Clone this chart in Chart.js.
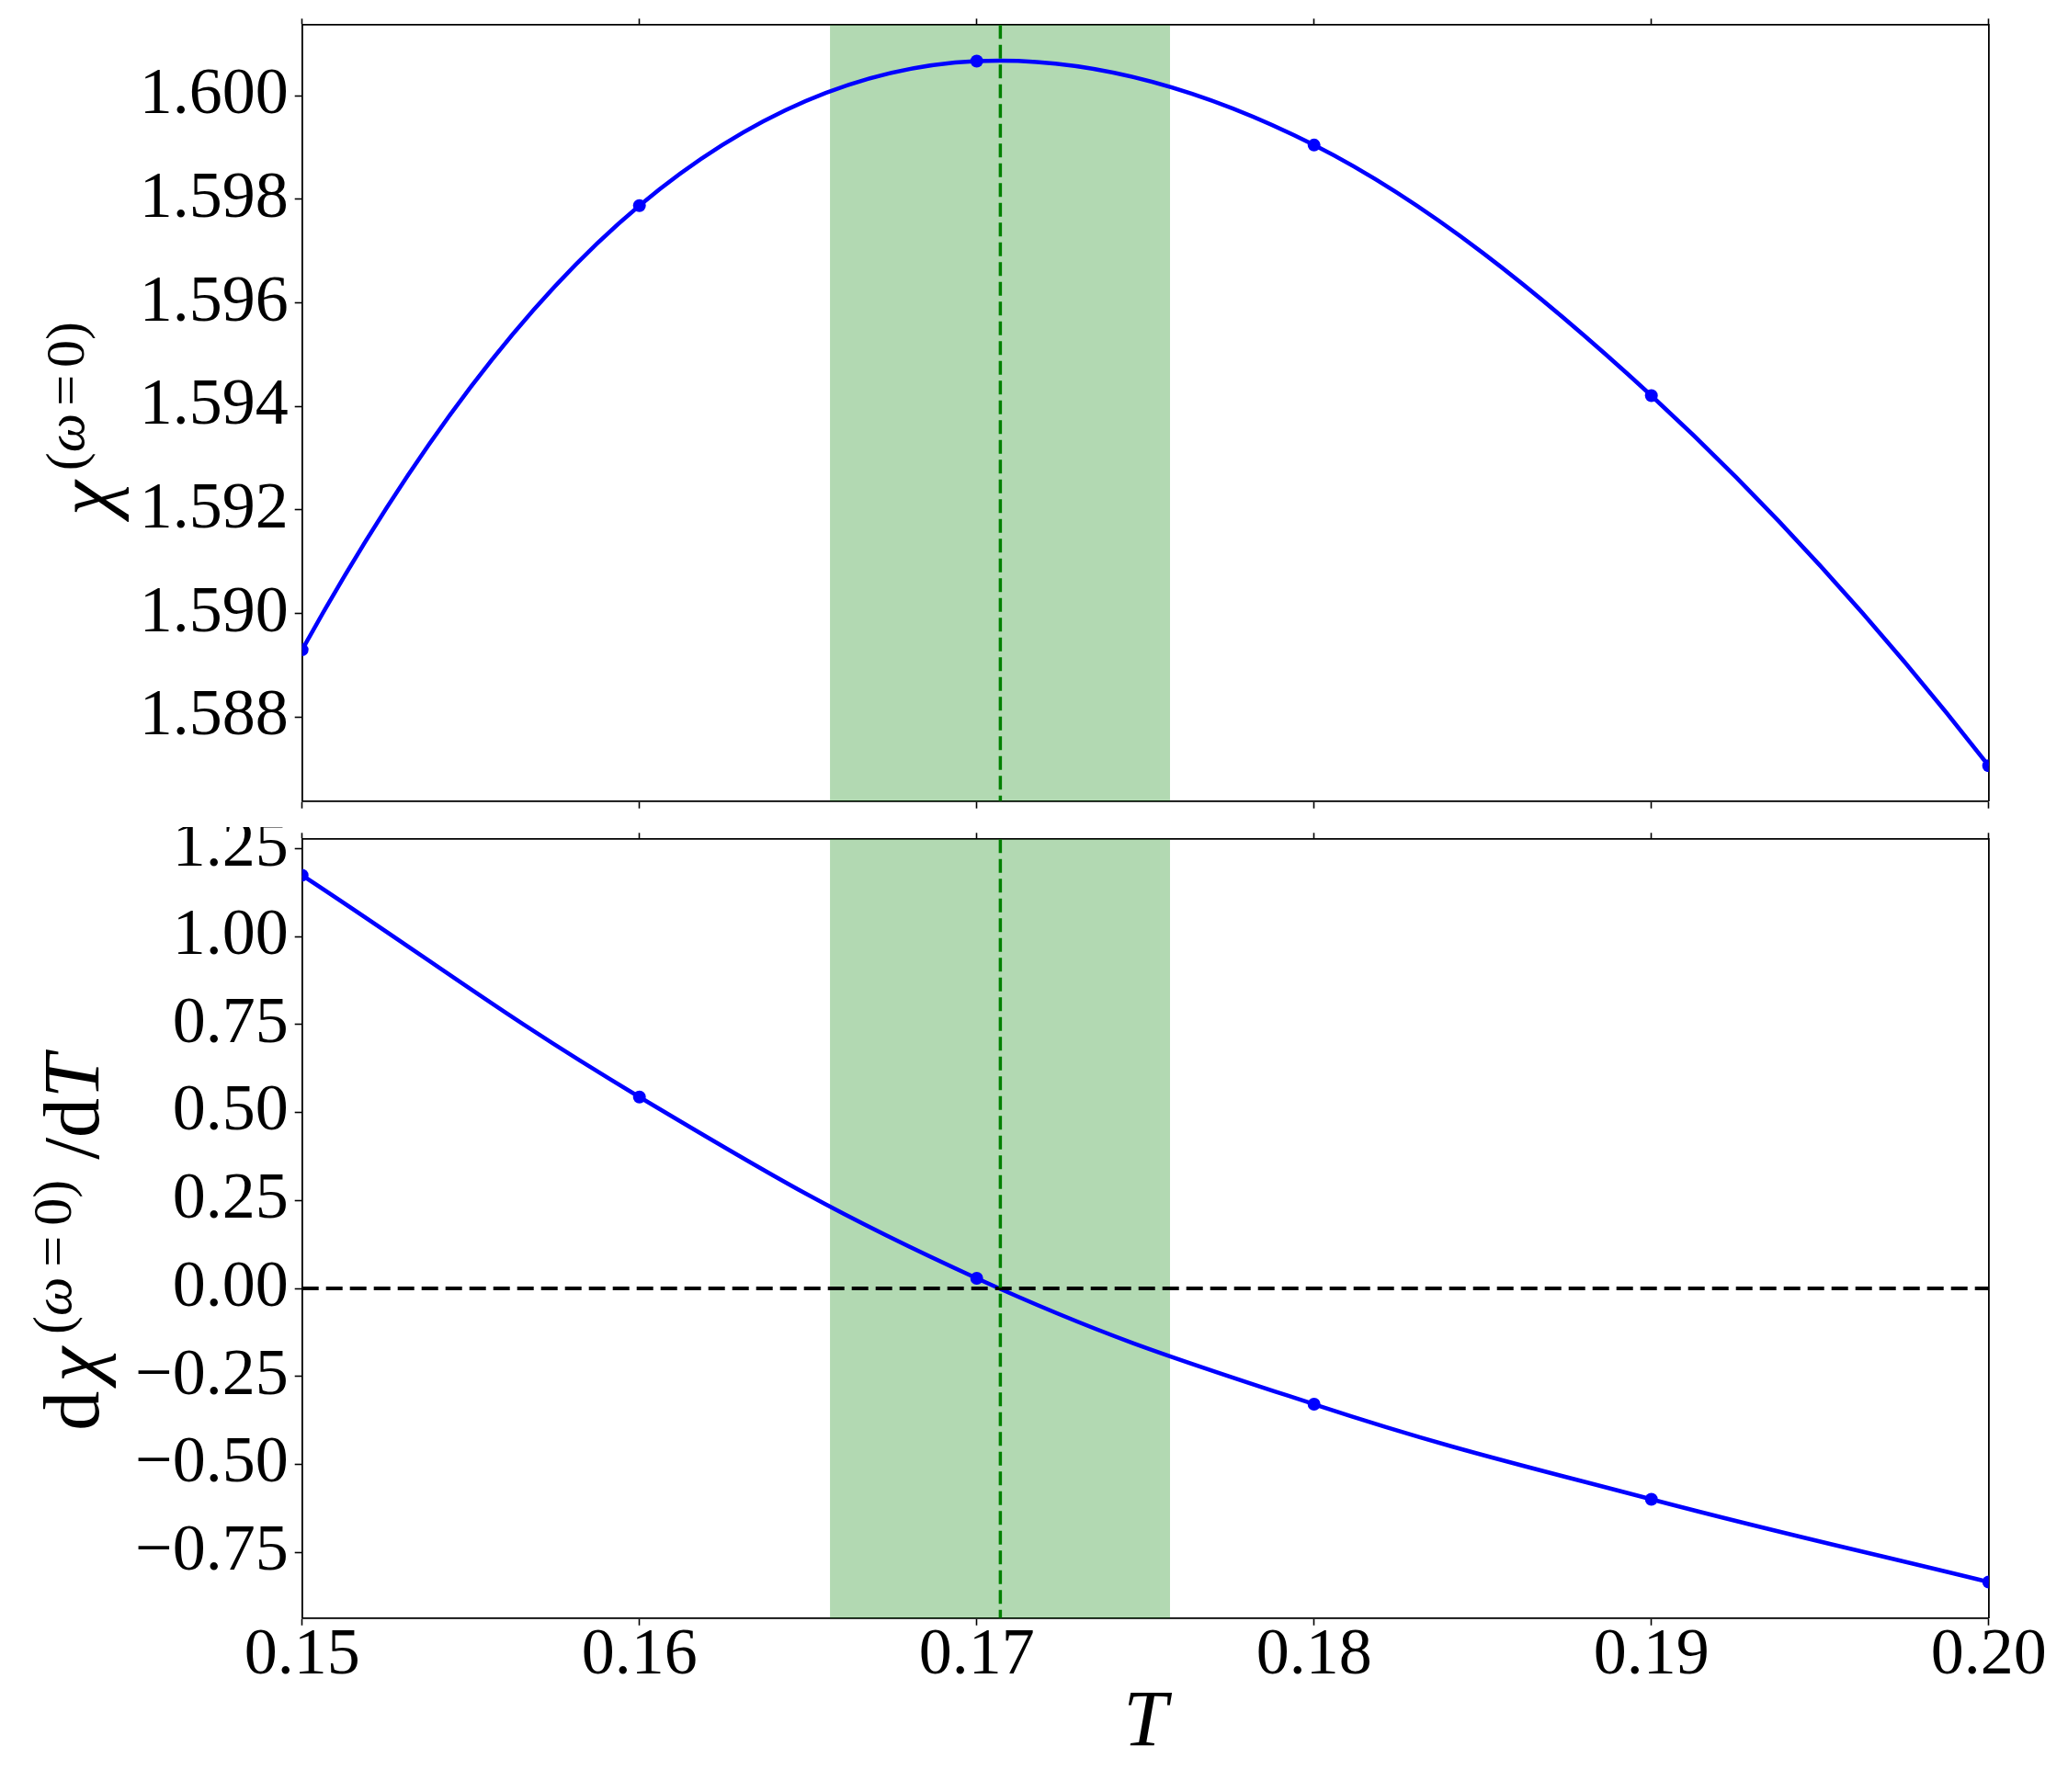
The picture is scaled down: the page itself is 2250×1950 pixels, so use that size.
<!DOCTYPE html>
<html>
<head>
<meta charset="utf-8">
<script src="https://cdn.jsdelivr.net/npm/chart.js@4.4.0/dist/chart.umd.min.js"></script>
<style>
  html, body { margin: 0; padding: 0; background: #fff; }
  #wrap { position: relative; width: 2250px; height: 1950px; }
  .box { position: absolute; left: 0; width: 2250px; }
  #top-box { top: 0; height: 900px; }
  #bottom-box { top: 900px; height: 1050px; }
</style>
</head>
<body>
<div id="wrap">
  <div class="box" id="top-box"><canvas id="chi-chart"></canvas></div>
  <div class="box" id="bottom-box"><canvas id="dchi-chart"></canvas></div>
</div>
<script>
// Temperatures of the computed points
const temps = [0.15, 0.16, 0.17, 0.18, 0.19, 0.20];
// Static susceptibility chi^(w=0)
const chiValues = [1.58930, 1.59788, 1.60067, 1.59905, 1.59421, 1.58706];
// Its derivative d chi / dT
const dchiValues = [1.174, 0.544, 0.029, -0.329, -0.599, -0.834];

// Critical temperature and its uncertainty band
const tCrit = 0.1707;
const tBand = [0.16565, 0.17573];

// Ticks
const tTicks = [0.15, 0.16, 0.17, 0.18, 0.19, 0.20];
const chiTicks = [1.588, 1.590, 1.592, 1.594, 1.596, 1.598, 1.600];
const dchiTicks = [-0.75, -0.50, -0.25, 0.00, 0.25, 0.50, 0.75, 1.00, 1.25];

// Axis limits
const tRange = [0.15, 0.20];
const chiRange = [1.586378, 1.601367];
const dchiRange = [-0.9364, 1.2761];

const SERIF = "'Liberation Serif', 'Times New Roman', serif";
Chart.defaults.font.family = SERIF;
Chart.defaults.color = '#000';

// fixed size of an axis box, no extra padding from labels
function fixBox(size) {
	return function(scale) {
		if (scale.isHorizontal()) scale.height = size;
		else scale.width = size;
		scale.paddingTop = 0;
		scale.paddingBottom = 0;
		scale.paddingLeft = 0;
		scale.paddingRight = 0;
	};
}

function useTicks(list) {
	return function(scale) {
		scale.ticks = list.map(v => ({ value: v }));
	};
}

function minus(str) {
	return str.replace('-', '\u2212');
}

const tickFont = { family: SERIF, size: 72, lineHeight: 1 };
const gridTicks = { drawOnChartArea: false, drawTicks: true, tickLength: 8, tickWidth: 1.6, tickColor: '#000' };
const frame = { display: true, color: '#000', width: 1.8 };

// Band of Tc, vertical dashed Tc line and optional zero line
const tcPlugin = {
	id: 'tcMarks',
	beforeDatasetsDraw(chart) {
		const { ctx, chartArea: a, scales: { x } } = chart;
		const x0 = x.getPixelForValue(tBand[0]);
		const x1 = x.getPixelForValue(tBand[1]);
		ctx.save();
		ctx.fillStyle = 'rgba(0, 128, 0, 0.3)';
		ctx.fillRect(x0, a.top, x1 - x0, a.height);
		ctx.restore();
	},
	afterDatasetsDraw(chart, args, opts) {
		const { ctx, chartArea: a, scales: { x, y } } = chart;
		ctx.save();
		ctx.beginPath();
		ctx.rect(a.left, a.top, a.width, a.height);
		ctx.clip();
		if (opts.zeroLine) {
			const y0 = y.getPixelForValue(0);
			ctx.strokeStyle = '#000';
			ctx.lineWidth = 4;
			ctx.setLineDash([18, 8]);
			ctx.beginPath();
			ctx.moveTo(a.left, y0);
			ctx.lineTo(a.right, y0);
			ctx.stroke();
		}
		const xc = x.getPixelForValue(tCrit);
		ctx.strokeStyle = '#008000';
		ctx.lineWidth = 3.5;
		ctx.setLineDash([15, 6.5]);
		ctx.beginPath();
		ctx.moveTo(xc, a.top);
		ctx.lineTo(xc, a.bottom);
		ctx.stroke();
		ctx.restore();
	}
};

// Curve of chi: bezier control points follow the slopes dchi/dT (Hermite form)
const slopePlugin = {
	id: 'slopeCurve',
	beforeDatasetDraw(chart, args, opts) {
		if (!opts.slopes) return;
		const meta = args.meta;
		const { x, y } = chart.scales;
		meta.dataset.updateControlPoints(chart.chartArea);
		meta.data.forEach((p, i) => {
			const t = temps[i];
			const v = opts.values[i];
			const s = opts.slopes[i];
			const hPrev = (i > 0 ? t - temps[i - 1] : temps[1] - temps[0]) / 3;
			const hNext = (i < temps.length - 1 ? temps[i + 1] - t : t - temps[i - 1]) / 3;
			p.cp1x = x.getPixelForValue(t - hPrev);
			p.cp1y = y.getPixelForValue(v - s * hPrev);
			p.cp2x = x.getPixelForValue(t + hNext);
			p.cp2y = y.getPixelForValue(v + s * hNext);
		});
	}
};

// y label with superscript, rotated
const yLabelPlugin = {
	id: 'yLabel',
	afterDraw(chart, args, opts) {
		const { ctx, chartArea: a } = chart;
		const pieces = opts.pieces;
		let total = 0;
		pieces.forEach(p => {
			ctx.font = p.font;
			p.w = ctx.measureText(p.text).width;
			total += p.w + (p.gap || 0);
		});
		ctx.save();
		ctx.translate(opts.baseX, (a.top + a.bottom) / 2 + (opts.shift || 0));
		ctx.rotate(-Math.PI / 2);
		ctx.textBaseline = 'alphabetic';
		ctx.textAlign = 'left';
		ctx.fillStyle = '#000';
		let pos = -total / 2;
		pieces.forEach(p => {
			pos += p.gap || 0;
			ctx.font = p.font;
			ctx.fillText(p.text, pos, -(p.rise || 0));
			pos += p.w;
		});
		ctx.restore();
	}
};

const big = '86px ' + SERIF;
const bigIt = 'italic 86px ' + SERIF;
const sup = '60px ' + SERIF;
const supIt = 'italic 60px ' + SERIF;

function supPieces(first, eqGap) {
	return [
		{ text: '(', font: sup, rise: 30, gap: first },
		{ text: '\u03c9', font: supIt, rise: 30 },
		{ text: '=', font: sup, rise: 30, gap: eqGap },
		{ text: '0', font: sup, rise: 30, gap: eqGap },
		{ text: ')', font: sup, rise: 30 }
	];
}

function xScales(showLabels, bottomSize) {
	return {
		x: {
			type: 'linear', position: 'bottom',
			min: tRange[0], max: tRange[1],
			afterBuildTicks: useTicks(tTicks),
			afterFit: fixBox(bottomSize),
			grid: gridTicks,
			border: frame,
			ticks: {
				display: showLabels, font: tickFont, padding: -3, autoSkip: false, maxRotation: 0,
				callback: v => v.toFixed(2)
			},
			title: {
				display: showLabels, text: 'T',
				font: { family: SERIF, size: 86, style: 'italic', lineHeight: 1 },
				padding: { top: 0, bottom: 31 }
			}
		},
		xTop: {
			type: 'linear', position: 'top',
			min: tRange[0], max: tRange[1],
			afterBuildTicks: useTicks(tTicks),
			afterFit: fixBox(7),
			grid: Object.assign({}, gridTicks, { tickLength: 7 }),
			border: frame,
			ticks: { display: false }
		},
		yRight: {
			type: 'linear', position: 'right',
			afterFit: fixBox(0),
			grid: { drawOnChartArea: false, drawTicks: false },
			border: frame,
			ticks: { display: false }
		}
	};
}

function lineData(values) {
	return {
		datasets: [{
			data: temps.map((t, i) => ({ x: t, y: values[i] })),
			xAxisID: 'x',
			yAxisID: 'y',
			borderColor: '#0000ff',
			backgroundColor: '#0000ff',
			borderWidth: 4.5,
			pointRadius: 7,
			pointBorderWidth: 0,
			pointBackgroundColor: '#0000ff',
			tension: 0.4,
			clip: 0
		}]
	};
}

// Top: chi(T)
const chiScales = xScales(false, 8);
chiScales.y = {
	type: 'linear', position: 'left',
	min: chiRange[0], max: chiRange[1],
	afterBuildTicks: useTicks(chiTicks),
	afterFit: fixBox(328.7),
	grid: gridTicks,
	border: frame,
	ticks: { font: tickFont, padding: 7, autoSkip: false, callback: v => v.toFixed(3) }
};

new Chart(document.getElementById('chi-chart'), {
	type: 'line',
	data: lineData(chiValues),
	options: {
		responsive: true,
		maintainAspectRatio: false,
		animation: false,
		layout: { padding: { left: 0, right: 86.3, top: 20.3, bottom: 20.3 } },
		scales: chiScales,
		plugins: {
			legend: { display: false },
			tooltip: { enabled: false },
			tcMarks: { zeroLine: false },
			slopeCurve: { values: chiValues, slopes: dchiValues },
			yLabel: {
				baseX: 121, shift: 6,
				pieces: [{ text: '\u03c7', font: bigIt }].concat(supPieces(11, 8))
			}
		}
	},
	plugins: [tcPlugin, slopePlugin, yLabelPlugin]
});

// Bottom: d chi / dT
const dchiScales = xScales(true, 189.3);
dchiScales.y = {
	type: 'linear', position: 'left',
	min: dchiRange[0], max: dchiRange[1],
	afterBuildTicks: useTicks(dchiTicks),
	afterFit: fixBox(328.7),
	grid: gridTicks,
	border: frame,
	ticks: { font: tickFont, padding: 7, autoSkip: false, callback: v => minus(v.toFixed(2)) }
};

new Chart(document.getElementById('dchi-chart'), {
	type: 'line',
	data: lineData(dchiValues),
	options: {
		responsive: true,
		maintainAspectRatio: false,
		animation: false,
		layout: { padding: { left: 0, right: 86.3, top: 6.3, bottom: 0 } },
		scales: dchiScales,
		plugins: {
			legend: { display: false },
			tooltip: { enabled: false },
			tcMarks: { zeroLine: true },
			slopeCurve: {},
			yLabel: {
				baseX: 107, shift: 15,
				pieces: [
					{ text: 'd', font: big },
					{ text: '\u03c7', font: bigIt, gap: 10 }
				].concat(supPieces(14, 11))
				.concat([
					{ text: '/', font: big, gap: 22 },
					{ text: 'd', font: big },
					{ text: 'T', font: bigIt }
				])
			}
		}
	},
	plugins: [tcPlugin, slopePlugin, yLabelPlugin]
});
</script>
</body>
</html>
